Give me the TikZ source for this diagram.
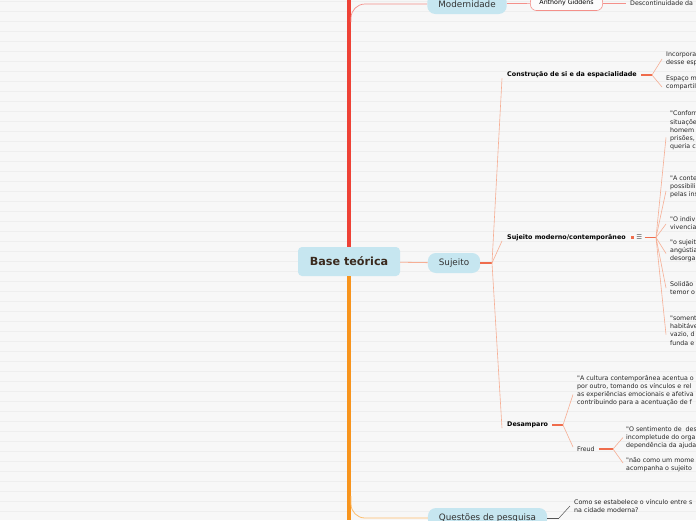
\documentclass[tikz,border=0pt]{standalone}
\usepackage{fontspec}
\setmainfont{DejaVu Sans}
\usetikzlibrary{positioning}
\usepackage{xcolor}

\definecolor{bgfill}{HTML}{F7F7F7}
\definecolor{bgrule}{HTML}{EEEEEE}
\definecolor{topicblue}{HTML}{C6E6F0}
\definecolor{roottext}{HTML}{3A2A1E}
\definecolor{trunkred}{HTML}{EE4136}
\definecolor{trunkorange}{HTML}{F7941D}
\definecolor{redbranch}{HTML}{F4908A}
\definecolor{orangebranch}{HTML}{FDBE6E}
\definecolor{stubcol}{HTML}{EF6C4C}
\definecolor{twigcol}{HTML}{F6AE94}
\definecolor{darkline}{HTML}{555555}

\newcommand{\dq}{\textquotedbl}

\tikzset{
  rootbox/.style={rounded corners=4pt, fill=topicblue, text=roottext,
    minimum width=102pt, minimum height=29pt, inner xsep=10pt,
    font=\bfseries\fontsize{11.2}{13}\selectfont},
  topic/.style={rounded corners=8pt, fill=topicblue, text=black!80,
    minimum height=20pt, inner xsep=11pt,
    font=\fontsize{8.8}{10}\selectfont},
  giddens/.style={rounded corners=6pt, draw=redbranch, fill=white!60!bgfill,
    minimum height=15pt, inner xsep=9pt, line width=0.6pt,
    font=\fontsize{6.3}{7}\selectfont},
  subtopic/.style={anchor=west, inner sep=0pt,
    font=\bfseries\fontsize{6.4}{7}\selectfont},
  leaf/.style={anchor=west, inner sep=0pt, align=left, text=black!85,
    font=\fontsize{6.3}{8.2}\selectfont},
  trunk/.style={line width=4.5pt},
  twig/.style={draw=twigcol, line width=0.6pt},
  stub/.style={draw=stubcol, line width=1.6pt},
  icondot/.style={fill=stubcol, inner sep=0pt, minimum size=2.4pt},
  iconmenu/.style={inner sep=0pt, text=darkline, font=\fontsize{6.5}{7}\selectfont}
}

\begin{document}
\begin{tikzpicture}[x=1pt, y=-1pt]

% Background
\useasboundingbox (0,0) rectangle (696,520);
\clip (0,0) rectangle (696,520);
\fill[bgfill] (0,0) rectangle (696,520);
\foreach \ly in {1,11,...,521}
    \draw[bgrule, line width=0.5pt] (0,\ly) -- (696,\ly);

% Root and trunks
\node[rootbox] (root) at (349,261.5) {Base teórica};
\coordinate (top) at (349,0);
\coordinate (bottom) at (349,520);
\draw[trunk, trunkred] (root.north) -- (top);
\draw[trunk, trunkorange] (root.south) -- (bottom);

% Modernidade
\coordinate (modfork) at (351,22);
\node[topic] (mod) at (467,4) {Modernidade};
\draw[redbranch, line width=0.7pt, rounded corners=14pt] (modfork) |- (mod.west);
\node[giddens] (gid) at (566.5,3) {Anthony Giddens};
\draw[redbranch, line width=0.7pt] (mod) -- (gid);
\node[leaf] (desc) at (630,3) {Descontinuidade da};
\draw[redbranch, line width=0.7pt, shorten >=4pt] (gid) -- (desc);

% Sujeito
\node[topic] (suj) at (454,263) {Sujeito};
\draw[twig, line width=0.8pt] (root) -- (suj);
\coordinate (sujfork) at (492,263);
\draw[stub] (suj.east) -- (sujfork);

\node[subtopic] (cons) at (507,75) {Construção de si e da espacialidade};
\node[subtopic] (mc) at (507,237.5) {Sujeito moderno/contemporâneo};
\node[subtopic] (desamp) at (507,425) {Desamparo};
\foreach \s in {cons,mc,desamp}
    \draw[twig] (sujfork) -- ([xshift=-5pt]\s.south west);

% Construção de si
\coordinate (consfork) at (652,75);
\draw[stub] ([xshift=4pt]cons.east) -- (consfork);
\node[leaf] (inc) at (666,59) {Incorpora\\desse esp};
\node[leaf] (esp) at (666,83) {Espaço m\\compartil};
\draw[twig] (consfork) -- ([xshift=-4pt]inc.west);
\draw[twig] (consfork) -- ([xshift=-4pt,yshift=-4pt]esp.west);

% Sujeito moderno/contemporâneo
\node[icondot, right=5pt of mc] (dot) {};
\node[iconmenu, right=2.5pt of dot] (menu) {☰};
\coordinate (mcfork) at (656,237.5);
\draw[stub] ([xshift=2pt]menu.east) -- (mcfork);

\node[leaf] (q1) at (670,130.5) {\dq Conform\\situaçõe\\homem\\prisões,\\queria c};
\node[leaf] (q2) at (670,187) {\dq A conte\\possibili\\pelas ins};
\node[leaf] (q3) at (670,223) {\dq O indiv\\vivencia};
\node[leaf] (q4) at (670,250.5) {\dq o sujeit\\angústia\\desorga};
\node[leaf] (q5) at (670,288) {Solidão\\temor o};
\node[leaf] (q6) at (670,330.5) {\dq soment\\habitáve\\vazio, d\\funda e};
\foreach \q/\dy in {q1/-7,q2/-4,q3/-1,q4/-3,q5/0,q6/-4}
    \draw[twig] (mcfork) -- ([xshift=-4pt,yshift=\dy pt]\q.west);

% Desamparo
\coordinate (desfork) at (563,425);
\draw[stub] ([xshift=4pt]desamp.east) -- (desfork);
\node[leaf] (cult) at (577,390.5) {\dq A cultura contemporânea acentua o\\por outro, tomando os vínculos e rel\\as experiências emocionais e afetiva\\contribuindo para a acentuação de f};
\node[leaf] (freud) at (577,449) {Freud};
\draw[twig] (desfork) -- ([xshift=-4pt,yshift=-4pt]cult.west);
\draw[twig] (desfork) -- ([xshift=-4pt,yshift=2pt]freud.west);

\coordinate (frfork) at (613,449);
\draw[stub] ([xshift=4pt]freud.east) -- (frfork);
\node[leaf] (sent) at (626,437.5) {\dq O sentimento de\ \ des\\incompletude do orga\\dependência da ajuda};
\node[leaf] (nao) at (626,465) {\dq não como um mome\\acompanha o sujeito};
\draw[twig] (frfork) -- ([xshift=-3pt]sent.west);
\draw[twig] (frfork) -- ([xshift=-3pt,yshift=2pt]nao.west);

% Questões de pesquisa
\coordinate (quesfork) at (351,496);
\node[topic] (ques) at (487.5,518) {Questões de pesquisa};
\draw[orangebranch, line width=0.8pt, rounded corners=14pt] (quesfork) |- (ques.west);
\coordinate (quesstub) at (559,518);
\draw[darkline, line width=1pt] (ques.east) -- (quesstub);
\node[leaf] (como) at (574,506) {Como se estabelece o vínculo entre s\\na cidade moderna?};
\draw[darkline, line width=0.5pt] (quesstub) -- ([xshift=-4pt]como.west);

\end{tikzpicture}
\end{document}
